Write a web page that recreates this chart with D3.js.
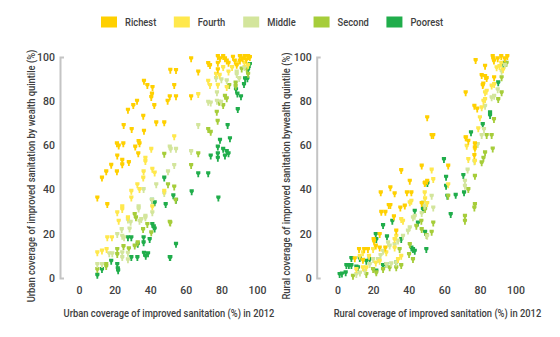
<!DOCTYPE html>
<html>
<head>
<meta charset="utf-8">
<script src="https://cdn.jsdelivr.net/npm/d3@7"></script>
<style>
  html, body { margin: 0; padding: 0; background: #fff; }
  svg { display: block; }
  text { font-family: Roboto, "Liberation Sans", sans-serif; font-weight: 500; fill: #404040; }
</style>
</head>
<body>
<svg id="chart" width="560" height="337"></svg>
<script>
// Wealth quintiles (legend order) and their colours
const quintiles = ["Richest", "Fourth", "Middle", "Second", "Poorest"];
const quintileColors = ["#FFD000", "#FFE84C", "#D3E59C", "#A6CD3A", "#20AD4B"];
const tickValues = [0, 20, 40, 60, 80, 100];

// Urban: [national urban coverage %, quintile coverage %]
const urbanRichest = [[51.3,93.8],[36.5,88.8],[38.4,86.9],[41.3,86],[41,83],[40.6,81.5],[49.8,79.8],[32.6,79.8],[30.5,77.8],[27.5,75.7],[42.3,77.8],[36.1,73],[25.1,68.8],[29.6,67],[43.4,70],[47.9,70],[36.5,66.2],[33.5,61.5],[34,60.5],[21.3,60.5],[22.3,59.5],[24.9,60.5],[31.6,59],[33.3,56],[21.5,55],[24.3,53],[24.3,51],[28,52],[18.1,50.8],[15.3,47.8],[21.3,47.8],[12.9,45],[10.3,36],[15.9,33],[63,99],[54.5,93.7],[67,93],[72.6,96.8],[73.6,95.9],[78,100],[78,97],[78,94],[79.2,99],[81,100],[82,99],[83,98],[84,97],[86.5,99.7],[87.5,98],[88.6,96],[90.4,100],[90.4,98],[93,100],[95,100],[96,99.5],[94,98.5],[92,99],[53.5,86.9],[51,81.8],[54.5,81.8],[63,81.8]];
const urbanFourth = [[40.6,58],[37.3,54],[37.3,52.5],[41.2,49],[42.5,47.3],[36.3,47.8],[36.1,45],[32.8,42],[29.4,39],[29.4,36],[34,39.8],[47.9,39],[24.3,32],[24.3,30.8],[21.5,29.3],[22.3,25.5],[27.5,27],[41.2,32],[15.9,18],[18.5,18],[10.3,11.2],[12.9,12],[15.5,12.7],[72.6,88.8],[73.6,86.9],[67,82.8],[77,92],[53.5,63.7],[79,91.5],[84,93],[81,95],[86,95],[89,97],[93,97],[95,96],[78,87],[83,86]];
const urbanMiddle = [[51.5,58],[50,47.8],[43.4,42],[36.3,39.8],[47.9,38],[41,35],[33.5,32],[33.5,31],[27.5,26],[29,25],[34,25.5],[35,26.2],[37.3,27.7],[37.3,27],[41.2,29.3],[24,21.7],[28.4,22],[21.5,19.5],[24.3,18.7],[25.3,18],[17,10.8],[18.7,10.8],[24.3,11.2],[24.3,9],[27.5,11],[27.5,8],[10.3,5.9],[12.9,5.9],[77,90],[80,89.5],[83,89],[88.6,93],[88.6,91.9],[72.6,79.3],[74,79],[77.5,83.6],[77.5,79.8],[79.8,79.3],[67,68.8],[51,59],[54.5,58],[63,57],[53.5,50.7],[93,95],[90,90]];
const urbanSecond = [[47.9,55.8],[50,42],[31.3,28.5],[32,27],[38.4,24],[51.3,24.7],[36,21.7],[40.6,20.2],[33,15.7],[31.3,14.2],[21.5,12.7],[21.5,10.4],[15.3,5.9],[15.3,5],[10.3,3.6],[84.4,86.9],[88,88],[88,86.5],[91.4,94.4],[94.2,94.4],[78.7,79.3],[82,82],[83,80.9],[81,77.8],[77.4,74.8],[77.9,70.7],[72.6,67],[74,65.7],[67,56],[63,50.7],[53.5,41],[51,25],[54.3,35],[95,92],[25,14],[28,13]];
const urbanPoorest = [[47.9,45],[41,35],[42.5,33.8],[48.7,33],[41.2,24],[42.5,22],[42,23],[27.5,18],[29.4,18],[33,15],[36.3,18],[36.3,15.7],[39.7,17.2],[29.4,9],[32.8,9],[36.5,11],[37.5,9.6],[38.8,10.8],[51.3,9],[12.9,3.6],[18.1,7.4],[21.5,5.9],[22,3],[21.8,4],[10.3,1],[93.3,89.9],[94.6,89.9],[96,96.4],[95,94],[88.2,85],[89,83],[91,81.8],[92.7,87.3],[89.2,76],[83.5,68.8],[84.8,62.8],[79.2,62.1],[74,55],[78,59],[78,56],[78,54],[81,58],[82,55],[84,56],[83,57],[67,47],[72.6,47],[54.5,35],[53,37],[63.3,38.8],[78.3,36],[54.5,15],[51,9]];

// Rural: [national rural coverage %, quintile coverage %]
const ruralRichest = [[77.6,98.2],[87.2,100],[87.9,98],[87.5,99],[90,99],[92,100],[94,99],[95.4,100],[82.9,95.6],[81,91.4],[82.9,91],[83.8,90],[88,90.4],[81.9,87.6],[81.6,86.9],[72,83.6],[76.9,77.5],[78.5,76.3],[50.4,72.3],[52.9,64.3],[53.8,64.3],[73.5,61.7],[72,63.2],[77.2,60.5],[77.2,58.7],[76.9,55.2],[47.3,50.4],[62.2,50.4],[49.2,42.8],[50.4,43.6],[47.3,33.5],[35.8,48.4],[40.6,43.6],[29.7,40.6],[24.3,38.3],[32.1,37.9],[39,38.3],[41.5,38.3],[49,42.5],[28.8,32.6],[29.7,32.6],[24.6,29.5],[26.9,29.5],[35.3,31.5],[37.8,32.3],[31.7,27.5],[33,21],[23.7,19.5],[20.5,16.4],[21.5,14.2],[12.1,12.7],[15,12.7],[17.1,12.7],[20.3,17.2],[23.7,13.4],[26.9,13.4],[9.7,8.5],[14.3,7.8]];
const ruralFourth = [[92,97],[93,94],[91,95.5],[89.4,94.9],[86.6,86.6],[88,87.3],[83.8,84.3],[82.9,83.6],[82,79.8],[82.9,80.5],[81,76.8],[80,72.3],[79.1,67.3],[72.2,63.2],[72.6,59.4],[77.2,58],[77.2,52.6],[73.5,53.4],[52.9,48.6],[53.8,44.3],[62.2,42],[49.2,35.6],[50.4,33.5],[40.6,33.8],[41.5,34.5],[49,38.3],[35.8,26.2],[36.8,25.5],[33,18.7],[32.1,17.2],[20,12.7],[17.7,9.6],[27.4,11.2],[32.1,13.4],[16.2,4.4],[14.3,4.4],[10.6,3.6],[12.5,9.6],[14.3,11.2],[21.5,6.6],[23.7,7.4],[35.8,9.6],[34,8.1]];
const ruralMiddle = [[92.2,93.3],[86.6,81.3],[88,82],[82.9,77.5],[82.3,67],[81,64.3],[78.8,60.2],[76.9,52.4],[73.1,48.6],[71.6,43.6],[71.6,41.3],[52.9,36.8],[53.8,31.5],[47.3,29],[48,33.8],[49,32.3],[42.4,27],[43.4,27.7],[40.6,22.5],[39.6,21],[36.8,18.7],[34,16.5],[32.1,14.9],[28.4,15.7],[29.3,14.2],[25.6,11.9],[24.2,10],[22.8,8.1],[20,8.1],[18.1,5.9],[15.3,2.9],[12.6,2],[10.6,1.4],[27.4,5.9],[30.2,6.2],[33,6.6],[50.4,18.7],[90,85],[94,96]];
const ruralSecond = [[92.2,90.4],[92.2,83.6],[90.3,80.5],[87.9,71.5],[86.6,64.3],[83.8,64.3],[87.2,58.2],[82.9,56.4],[82,54],[81,51.9],[77.2,45.8],[73.5,39.8],[62.2,36.8],[77.2,33],[76.9,31.5],[71.6,27.7],[71.6,25.5],[53.8,24.7],[47.3,21.7],[50,19],[52.9,20.5],[49.2,30.8],[44.3,23.2],[47.1,25.5],[40.6,14.9],[42.4,8.1],[40.2,10.4],[35.8,5.4],[33,4.4],[29.3,4.4],[25.6,3.6],[20,3.6],[21.8,2.1],[16.2,1.4],[8.7,0.6],[34.9,12.7],[95,97]];
const ruralPoorest = [[94,97],[93.2,96.4],[90.3,88.1],[85.7,74.5],[85.7,73.3],[81.6,69.2],[75,65.5],[59.8,53.4],[70.7,46.2],[61,45.4],[61,41.3],[61.7,36.8],[71.1,38.3],[48.2,31.5],[63.6,28.5],[66.4,37.2],[49.2,20.5],[50.5,42.5],[43.4,30],[45.2,24.7],[48,30.8],[30.8,25.5],[25.6,23.5],[21.5,19.5],[27.8,18.4],[41.5,13.4],[42.4,12.7],[35.8,17.2],[21.8,17.2],[7.8,8.6],[12.5,8.6],[5,5.4],[6.4,5.4],[7.8,5.4],[10.6,4.8],[11.5,4.4],[1.2,1.4],[2.5,1.6],[4.6,2.1],[16.2,7.4],[18.1,8.1],[25.6,5.4],[27.4,5.9],[33,6.6],[21.8,2.9],[43.4,11.9],[49.9,12.7]];

const urbanSeries = [urbanRichest, urbanFourth, urbanMiddle, urbanSecond, urbanPoorest];
const ruralSeries = [ruralRichest, ruralFourth, ruralMiddle, ruralSecond, ruralPoorest];

const svg = d3.select("#chart");
const FONT_SIZE = 10.5;
const NARROW = 0.89;   // horizontal squeeze for the condensed label face

// Squeeze a text element horizontally to emulate a condensed typeface
function condense(sel, factor) {
  sel.each(function () {
    const w = this.getComputedTextLength();
    d3.select(this).attr("textLength", w * factor).attr("lengthAdjust", "spacingAndGlyphs");
  });
  return sel;
}

// Small pin-shaped marker centred on the point
const markerPath = "M-2.1,-3 L2.1,-3 L2.1,-0.4 L0.9,0.9 L0.9,3 L-0.9,3 L-0.9,0.9 L-2.1,-0.4 Z";

// ---- Legend ----
const legend = svg.append("g").attr("class", "legend");
let lx = 101;
quintiles.forEach((q, i) => {
  legend.append("rect")
    .attr("x", lx).attr("y", 16.5).attr("width", 16).attr("height", 11)
    .attr("fill", quintileColors[i]);
  const t = legend.append("text")
    .attr("x", lx + 24).attr("y", 25.8)
    .attr("font-size", FONT_SIZE)
    .text(q);
  condense(t, NARROW);
  lx += 24 + t.node().getComputedTextLength() * NARROW + 21;
});

function panel(cfg) {
  const x = d3.scaleLinear().domain([0, 100]).range([cfg.x0, cfg.x1]);
  const y = d3.scaleLinear().domain([0, 100]).range([278, 57]);
  const g = svg.append("g");

  // y axis: light bracket with numeric labels
  const yAxis = d3.axisLeft(y).tickValues(tickValues)
    .tickSizeInner(0).tickSizeOuter(-4).tickPadding(5);
  const ya = g.append("g").attr("transform", `translate(${cfg.axisX},0)`).call(yAxis);
  ya.select(".domain").attr("stroke", "#c4c4c4").attr("stroke-width", 2).attr("fill", "none");
  ya.selectAll("text").attr("font-size", FONT_SIZE).attr("fill", "#404040").attr("font-family", null);

  // x axis: labels only
  const xAxis = d3.axisBottom(x).tickValues(tickValues).tickSize(0).tickPadding(9);
  const xa = g.append("g").attr("transform", "translate(0,278)").call(xAxis);
  xa.select(".domain").remove();
  xa.selectAll("text").attr("font-size", FONT_SIZE).attr("fill", "#404040").attr("font-family", null);

  // points, poorest drawn first so richer quintiles sit on top
  for (let i = cfg.series.length - 1; i >= 0; i--) {
    g.append("g").selectAll("path")
      .data(cfg.series[i]).join("path")
      .attr("d", markerPath)
      .attr("transform", d => `translate(${x(d[0])},${y(d[1])})`)
      .attr("fill", quintileColors[i]);
  }

  condense(g.append("text")
    .attr("x", cfg.titleX).attr("y", 316.5)
    .attr("text-anchor", "middle").attr("font-size", FONT_SIZE)
    .text(cfg.xTitle), NARROW);

  condense(g.append("text")
    .attr("transform", `translate(${cfg.yTitleX},176) rotate(-90)`)
    .attr("text-anchor", "middle").attr("font-size", FONT_SIZE)
    .text(cfg.yTitle), NARROW);
}

panel({
  x0: 79, x1: 257, axisX: 60, titleX: 169, yTitleX: 35,
  series: urbanSeries,
  xTitle: "Urban coverage of improved sanitation (%) in 2012",
  yTitle: "Urban coverage of improved sanitation by wealth quintile (%)"
});

panel({
  x0: 337.5, x1: 515.5, axisX: 316.7, titleX: 437.5, yTitleX: 290,
  series: ruralSeries,
  xTitle: "Rural coverage of improved sanitation (%) in 2012",
  yTitle: "Rural coverage of improved sanitation bywealth quintile (%)"
});
</script>
</body>
</html>
